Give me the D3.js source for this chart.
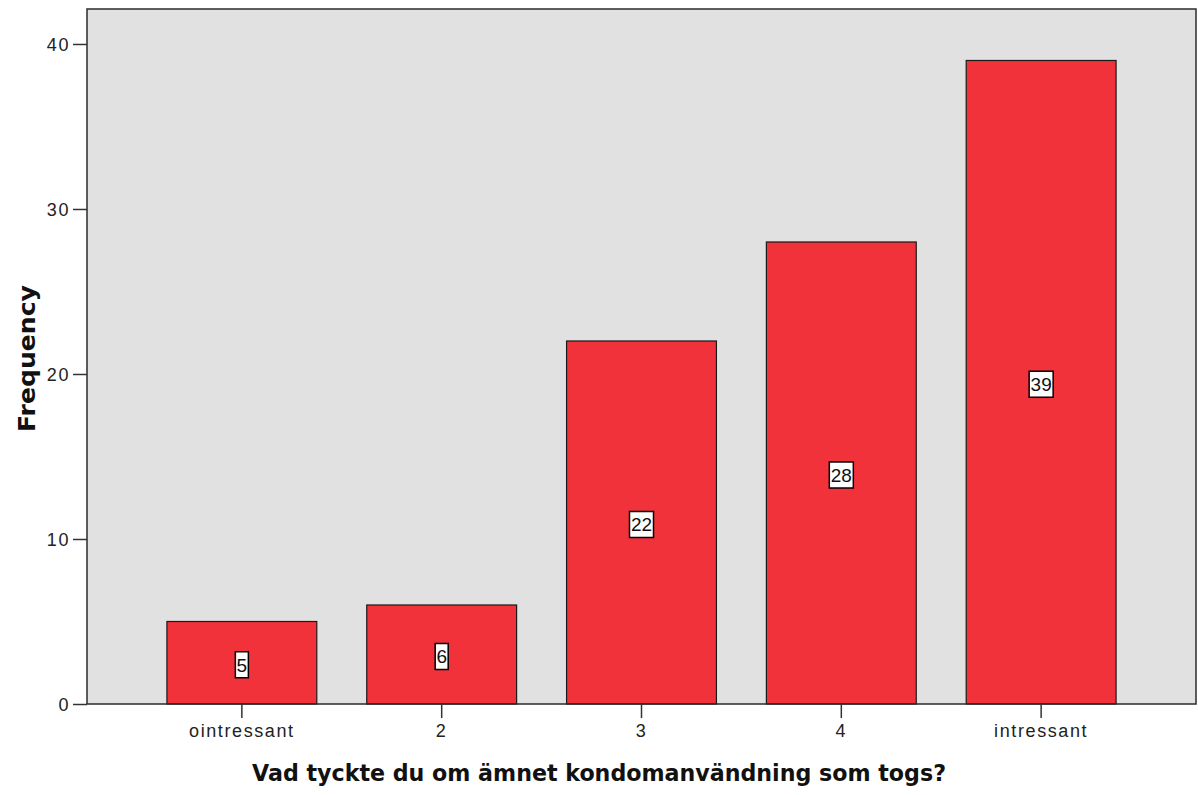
<!DOCTYPE html>
<html>
<head>
<meta charset="utf-8">
<script src="https://cdn.jsdelivr.net/npm/d3@7"></script>
<style>
  body { margin: 0; background: #fff; }
  svg { display: block; }
</style>
</head>
<body>
<svg width="1198" height="795"></svg>
<script>
// data
var categories = ["ointressant", "2", "3", "4", "intressant"];
var counts = [5, 6, 22, 28, 39];
var yTicks = [0, 10, 20, 30, 40];

var width = 1198, height = 795;
var plotLeft = 87, plotRight = 1196, plotTop = 9, plotBottom = 704;

var svg = d3.select("svg");

var x = d3.scaleBand()
  .domain(categories)
  .range([plotLeft, plotRight])
  .paddingInner(0.25)
  .paddingOuter(0.4);

var y = d3.scaleLinear()
  .domain([0, 42.12])
  .range([plotBottom, plotTop]);

// plot background
svg.append("rect")
  .attr("x", plotLeft).attr("y", plotTop)
  .attr("width", plotRight - plotLeft).attr("height", plotBottom - plotTop)
  .attr("fill", "#e1e1e1");

// bars
svg.append("g").selectAll("rect")
  .data(counts)
  .enter().append("rect")
  .attr("x", function(d, i) { return x(categories[i]); })
  .attr("y", function(d) { return y(d); })
  .attr("width", x.bandwidth())
  .attr("height", function(d) { return y(0) - y(d); })
  .attr("fill", "#f1323b")
  .attr("stroke", "#1a1a1a")
  .attr("stroke-width", 1.2);

// plot frame
svg.append("rect")
  .attr("x", plotLeft).attr("y", plotTop)
  .attr("width", plotRight - plotLeft).attr("height", plotBottom - plotTop)
  .attr("fill", "none")
  .attr("stroke", "#2b2b2b")
  .attr("stroke-width", 1.5);

// axes
var yAxis = svg.append("g")
  .attr("transform", "translate(" + plotLeft + ",0)")
  .call(d3.axisLeft(y).tickValues(yTicks).tickSize(14).tickPadding(3).tickFormat(d3.format("d")));
var xAxis = svg.append("g")
  .attr("transform", "translate(0," + plotBottom + ")")
  .call(d3.axisBottom(x).tickSize(14).tickPadding(6));

[yAxis, xAxis].forEach(function(a) {
  a.select(".domain").remove();
  a.selectAll(".tick line").attr("stroke", "#333").attr("stroke-width", 1.5);
  a.selectAll(".tick text")
    .attr("fill", "#222")
    .style("font-family", "'Liberation Sans', Arial, sans-serif")
    .style("font-size", "18px")
    .style("letter-spacing", "1.6px");
});
yAxis.selectAll(".tick text").attr("dy", "0.36em");

// value labels
var labels = svg.append("g").selectAll("g")
  .data(counts)
  .enter().append("g")
  .attr("transform", function(d, i) {
    return "translate(" + (x(categories[i]) + x.bandwidth() / 2) + "," + (y(d / 2) + 2) + ")";
  });
labels.append("rect")
  .attr("x", function(d) { return -(String(d).length * 11 + 2) / 2; })
  .attr("y", -13)
  .attr("width", function(d) { return String(d).length * 11 + 2; })
  .attr("height", 26)
  .attr("fill", "#fff")
  .attr("stroke", "#000")
  .attr("stroke-width", 1.5);
labels.append("text")
  .attr("text-anchor", "middle")
  .attr("dy", "0.36em")
  .style("font-family", "'Liberation Sans', Arial, sans-serif")
  .style("font-size", "19px")
  .attr("fill", "#111")
  .text(function(d) { return d; });

// axis titles
svg.append("text")
  .attr("x", width / 2)
  .attr("y", 781)
  .attr("text-anchor", "middle")
  .style("font-family", "'DejaVu Sans', Verdana, sans-serif")
  .style("font-weight", "bold")
  .style("font-size", "23px")
  .attr("textLength", 694)
  .attr("lengthAdjust", "spacingAndGlyphs")
  .attr("fill", "#111")
  .text("Vad tyckte du om ämnet kondomanvändning som togs?");

svg.append("text")
  .attr("transform", "translate(35," + ((plotTop + plotBottom) / 2 + 2) + ") rotate(-90)")
  .attr("text-anchor", "middle")
  .style("font-family", "'DejaVu Sans', Verdana, sans-serif")
  .style("font-weight", "bold")
  .style("font-size", "23px")
  .attr("textLength", 147)
  .attr("lengthAdjust", "spacingAndGlyphs")
  .attr("fill", "#111")
  .text("Frequency");
</script>
</body>
</html>
